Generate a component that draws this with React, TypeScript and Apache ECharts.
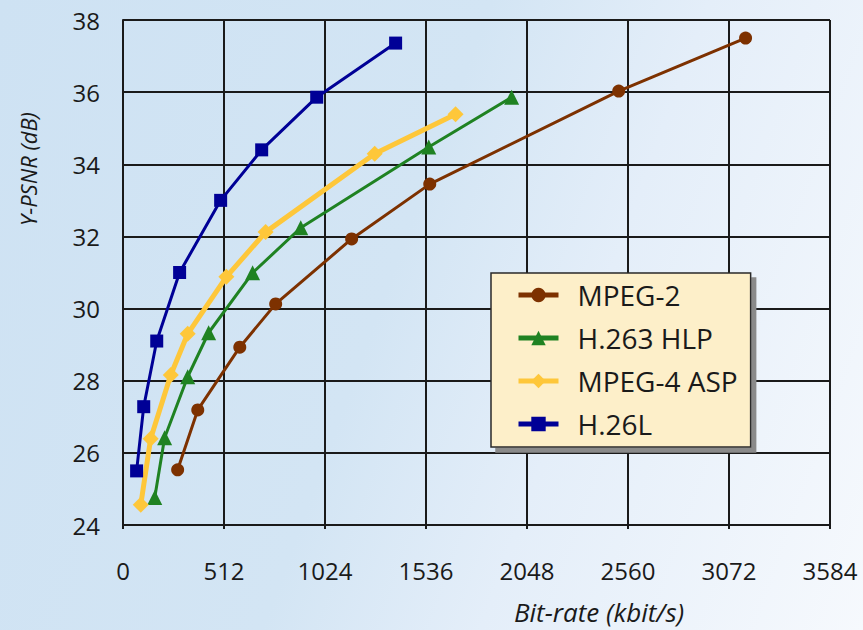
import React, { useEffect, useRef } from "react";
import * as echarts from "echarts";

const seriesNames = ["MPEG-2", "H.263 HLP", "MPEG-4 ASP", "H.26L"];
const mpeg2X = [277, 379, 592, 774, 1159, 1555, 2513, 3156];
const mpeg2Y = [25.53, 27.19, 28.93, 30.13, 31.93, 33.45, 36.03, 37.5];
const h263X = [161, 211, 328, 434, 657, 901, 1550, 1970];
const h263Y = [24.76, 26.42, 28.11, 29.33, 30.99, 32.24, 34.48, 35.86];
const mpeg4X = [90, 140, 242, 328, 524, 723, 1276, 1686];
const mpeg4Y = [24.56, 26.39, 28.16, 29.3, 30.88, 32.12, 34.29, 35.39];
const h26lX = [69, 105, 171, 287, 495, 703, 982, 1382];
const h26lY = [25.5, 27.28, 29.1, 31.0, 33.0, 34.4, 35.86, 37.36];
const xTicks = [0, 512, 1024, 1536, 2048, 2560, 3072, 3584];
const yTicks = [24, 26, 28, 30, 32, 34, 36, 38];

const FONT = "'Open Sans', 'Noto Sans', sans-serif";

function pairs(xs: number[], ys: number[]) {
  return xs.map((x, i) => [x, ys[i]]);
}

export default function App() {
  const ref = useRef<HTMLDivElement>(null);
  useEffect(() => {
    if (!ref.current) return;
    const chart = echarts.init(ref.current, null, { renderer: "svg" });
    const mk = (
      name: string,
      data: number[][],
      color: string,
      symbol: string,
      symbolSize: number,
      width: number
    ) => ({
      name,
      type: "line",
      data,
      symbol,
      symbolSize,
      showSymbol: true,
      lineStyle: { color, width },
      itemStyle: { color, borderWidth: 0 },
      emphasis: { disabled: true },
    });
    chart.setOption({
      animation: false,
      backgroundColor: "transparent",
      textStyle: { fontFamily: FONT },
      grid: { left: 123, top: 20, right: 33, bottom: 105, containLabel: false },
      xAxis: {
        type: "value",
        min: xTicks[0],
        max: xTicks[xTicks.length - 1],
        interval: 512,
        axisLine: { show: true, lineStyle: { color: "#1a1a1a", width: 2 } },
        axisTick: { show: true, length: 4, lineStyle: { color: "#1a1a1a", width: 2 } },
        splitLine: { show: true, lineStyle: { color: "#1a1a1a", width: 2 } },
        axisLabel: {
          margin: 33,
          fontSize: 24,
          color: "#1a1a1a",
          fontFamily: FONT,
          showMinLabel: true,
          showMaxLabel: true,
          formatter: (v: number) => String(v),
        },
      },
      yAxis: {
        type: "value",
        min: yTicks[0],
        max: yTicks[yTicks.length - 1],
        interval: 2,
        axisLine: { show: true, lineStyle: { color: "#1a1a1a", width: 2 } },
        axisTick: { show: false },
        splitLine: { show: true, lineStyle: { color: "#1a1a1a", width: 2 } },
        axisLabel: {
          margin: 23,
          fontSize: 24,
          color: "#1a1a1a",
          fontFamily: FONT,
          formatter: (v: number) => String(v),
        },
      },
      legend: {
        data: seriesNames,
        orient: "vertical",
        left: 491,
        top: 273,
        padding: [8, 13, 9, 25],
        itemWidth: 40,
        itemHeight: 18,
        itemGap: 15,
        backgroundColor: "#fdefc9",
        borderColor: "#2a2a2a",
        borderWidth: 1.5,
        borderRadius: 0,
        shadowColor: "#8a8a8a",
        shadowBlur: 0,
        shadowOffsetX: 5,
        shadowOffsetY: 5,
        selectedMode: false,
        z: 10,
        lineStyle: { width: 5 },
        textStyle: {
          fontSize: 28,
          lineHeight: 28,
          color: "#1a1a1a",
          fontFamily: FONT,
          padding: [0, 0, 0, 14],
        },
      },
      graphic: [
        {
          type: "text",
          x: 28,
          y: 169,
          rotation: Math.PI / 2,
          style: {
            text: "Y-PSNR (dB)",
            font: "italic 22px " + FONT,
            fill: "#1a1a1a",
            textAlign: "center",
            textVerticalAlign: "middle",
          },
        },
        {
          type: "text",
          x: 599,
          y: 612,
          style: {
            text: "Bit-rate (kbit/s)",
            font: "italic 26px " + FONT,
            fill: "#1a1a1a",
            textAlign: "center",
            textVerticalAlign: "middle",
          },
        },
      ],
      series: [
        mk(seriesNames[0], pairs(mpeg2X, mpeg2Y), "#7d3100", "circle", 13, 3),
        mk(seriesNames[1], pairs(h263X, h263Y), "#1f8222", "triangle", 15, 3),
        mk(seriesNames[2], pairs(mpeg4X, mpeg4Y), "#fec73a", "diamond", 16, 5),
        mk(seriesNames[3], pairs(h26lX, h26lY), "#000096", "rect", 13, 3),
      ],
    });
    return () => chart.dispose();
  }, []);
  return (
    <div
      style={{
        position: "fixed",
        left: 0,
        top: 0,
        width: 863,
        height: 630,
        background:
          "linear-gradient(110deg, #cee2f3 0%, #d3e5f4 45%, #e4eef9 65%, #f6f9fd 100%)",
      }}
    >
      <div ref={ref} style={{ width: 863, height: 630 }} />
    </div>
  );
}
